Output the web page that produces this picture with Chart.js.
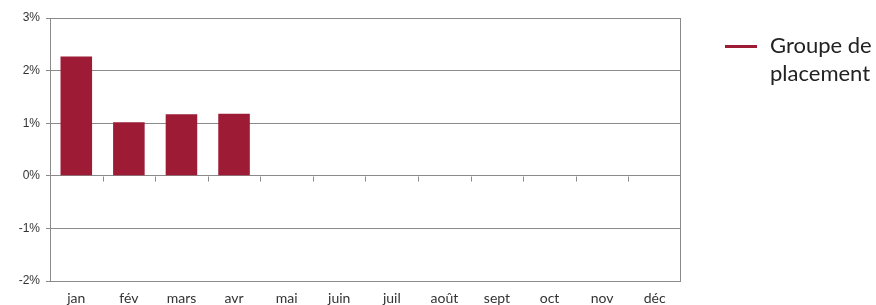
<!doctype html>
<html>

<head>
	<meta charset="utf-8">
	<title>Groupe de placement</title>
	<script src="https://cdn.jsdelivr.net/npm/chart.js@4/dist/chart.umd.min.js"></script>
	<style>
	body { margin: 0; background: #fff; }
	#wrap { position: relative; width: 876px; height: 305px; }
	#legend {
		position: absolute; left: 725px; top: 31px;
		font-family: Lato, sans-serif; font-size: 22px; line-height: 28px; color: #222;
	}
	#legend .swatch {
		position: absolute; left: 0; top: 14px; width: 32px; height: 2.5px; background: #9e1b36;
	}
	#legend .txt { position: absolute; left: 45px; top: 0; white-space: nowrap; }
	</style>
</head>

<body>
	<div id="wrap">
		<canvas id="canvas" width="876" height="305"></canvas>
		<div id="legend"><span class="swatch"></span><span class="txt">Groupe de<br>placement</span></div>
	</div>
	<script>
		const months = ['jan', 'fév', 'mars', 'avr', 'mai', 'juin', 'juil', 'août', 'sept', 'oct', 'nov', 'déc'];
		const groupe = [2.27, 1.02, 1.17, 1.18, null, null, null, null, null, null, null, null];
		const seriesName = 'Groupe de placement';

		// frame round the plot + small tick marks on the zero line
		const frame = {
			id: 'frame',
			afterDraw(chart) {
				const {ctx, chartArea: a, scales: {x, y}} = chart;
				ctx.save();
				ctx.strokeStyle = '#8a8a8a';
				ctx.lineWidth = 1;
				ctx.strokeRect(a.left + 0.5, a.top + 0.5, a.right - a.left - 1, a.bottom - a.top);
				const y0 = Math.round(y.getPixelForValue(0)) + 0.5;
				const step = (x.getPixelForValue(1) - x.getPixelForValue(0));
				ctx.beginPath();
				for (let i = 1; i < months.length; i++) {
					const px = Math.round(x.getPixelForValue(i) - step / 2) + 0.5;
					ctx.moveTo(px, y0);
					ctx.lineTo(px, y0 + 5);
				}
				ctx.stroke();
				ctx.restore();
			}
		};

		const ctx = document.getElementById('canvas').getContext('2d');
		new Chart(ctx, {
			type: 'bar',
			data: {
				labels: months,
				datasets: [{
					label: seriesName,
					data: groupe,
					backgroundColor: '#9e1b36',
					borderWidth: 0,
					categoryPercentage: 0.6,
					barPercentage: 1
				}]
			},
			options: {
				responsive: false,
				animation: false,
				layout: {padding: {top: 18, right: 195, left: 0, bottom: 0}},
				plugins: {
					legend: {display: false},
					tooltip: {enabled: false}
				},
				scales: {
					x: {
						grid: {display: false, drawTicks: false},
						border: {display: false},
						ticks: {
							padding: 9,
							color: '#333',
							font: {family: 'Lato', size: 14}
						},
						afterFit(s) { s.height = 24; }
					},
					y: {
						min: -2,
						max: 3,
						grid: {color: '#8a8a8a', tickLength: 4, tickColor: '#8a8a8a'},
						border: {color: '#8a8a8a'},
						ticks: {
							stepSize: 1,
							padding: 6,
							color: '#333',
							font: {family: 'Liberation Sans', size: 12},
							callback: v => v + '%'
						},
						afterFit(s) { s.width = 50; }
					}
				}
			},
			plugins: [frame]
		});
	</script>
</body>

</html>
